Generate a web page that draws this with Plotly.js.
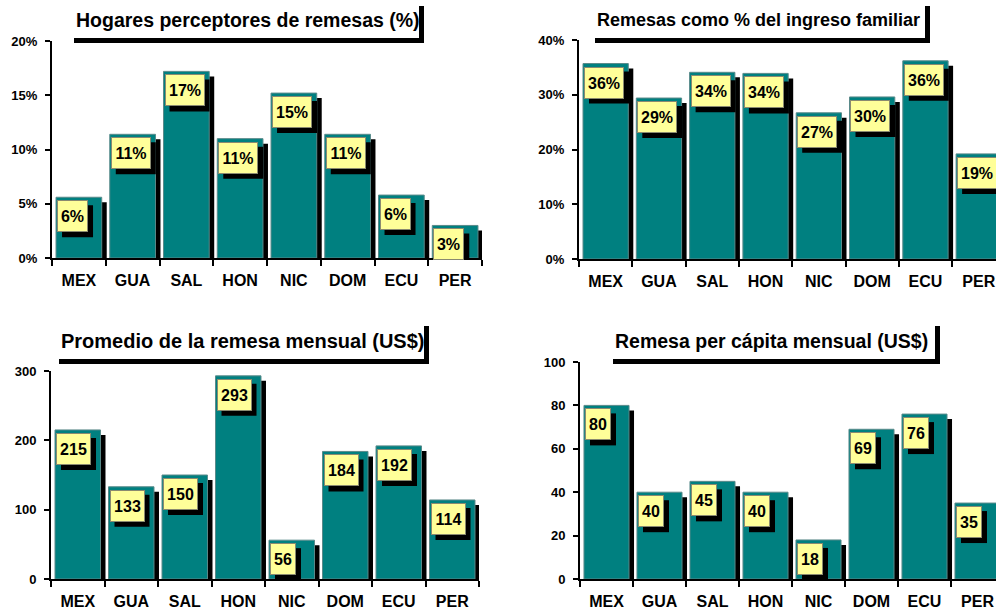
<!DOCTYPE html>
<html><head><meta charset="utf-8">
<script src="https://cdn.plot.ly/plotly-3.0.1.min.js"></script>
<style>body{margin:0;background:#fff}#chart{width:996px;height:612px}</style>
</head><body><div id="chart"></div>
<script>
const W = 996, H = 612;
const countries = ['MEX','GUA','SAL','HON','NIC','DOM','ECU','PER'];
const hogaresPct = [5.6, 11.4, 17.2, 11.0, 15.2, 11.4, 5.8, 3.0];
const remesaIngresoPct = [35.7, 29.4, 34.1, 33.9, 26.7, 29.6, 36.2, 19.2];
const promedioMensual = [215, 133, 150, 293, 56, 184, 192, 114];
const perCapitaMensual = [80, 40, 45, 40, 18, 69, 76, 35];
const titles = ['Hogares perceptores de remesas (%)', 'Remesas como % del ingreso familiar',
                'Promedio de la remesa mensual (US$)', 'Remesa per cápita mensual (US$)'];

const FONT = 'Arial, "Liberation Sans", sans-serif';
const TEAL = '#008080', YEL = '#FFFF99';
const BARW = 0.85, SH = 5;

const panels = [
  {values: hogaresPct, pct: true, yrange: [0, 20], dtick: 5, tsize: 19.5,
   box: {x0: 52, x1: 482, y0: 41, y1: 258, step: 53.75}, tb: {x0: 74, x1: 424, y0: 6, y1: 43, ty: 20}},
  {values: remesaIngresoPct, pct: true, yrange: [0, 40], dtick: 10, tsize: 18,
   box: {x0: 579, x1: 996, y0: 40, y1: 259, step: 53.3}, tb: {x0: 595, x1: 930, y0: 6, y1: 43, ty: 20}},
  {values: promedioMensual, pct: false, yrange: [0, 300], dtick: 100, tsize: 20,
   box: {x0: 51, x1: 479, y0: 371, y1: 579, step: 53.5}, tb: {x0: 59, x1: 429, y0: 326, y1: 364, ty: 341}},
  {values: perCapitaMensual, pct: false, yrange: [0, 100], dtick: 20, tsize: 19.5,
   box: {x0: 580, x1: 996, y0: 362, y1: 579, step: 53}, tb: {x0: 613, x1: 940, y0: 326, y1: 364, ty: 341}}
];

const data = [], shapes = [], annotations = [];
const layout = {
  width: W, height: H, margin: {l: 0, r: 0, t: 0, b: 0},
  paper_bgcolor: '#fff', plot_bgcolor: 'rgba(0,0,0,0)', showlegend: false, barmode: 'overlay',
  font: {family: FONT, color: '#000'}
};

function textW(s) {
  let w = 0;
  for (const c of s) w += (c === '%') ? 14.2 : 8.9;
  return w;
}

panels.forEach((p, k) => {
  const n = k + 1;
  const xa = 'x' + (n === 1 ? '' : n), ya = 'y' + (n === 1 ? '' : n);
  const xaKey = 'xaxis' + (n === 1 ? '' : n), yaKey = 'yaxis' + (n === 1 ? '' : n);
  const b = p.box;
  const span = p.yrange[1] - p.yrange[0];
  const hpx = b.y1 - b.y0;
  const shY = SH * span / hpx;

  layout[xaKey] = {
    type: 'category', domain: [b.x0 / W, b.x1 / W], anchor: ya,
    range: [-0.5, -0.5 + (b.x1 - b.x0) / b.step],
    tickson: 'boundaries', ticks: 'outside', ticklen: 6, tickwidth: 2, tickcolor: '#000',
    showline: true, linewidth: 2, linecolor: '#000', showgrid: false, zeroline: false,
    tickfont: {family: FONT, size: 16, weight: 'bold', color: '#000'}, ticklabelstandoff: 7,
    fixedrange: true
  };
  layout[yaKey] = {
    domain: [1 - b.y1 / H, 1 - b.y0 / H], anchor: xa, range: p.yrange,
    tickmode: 'linear', tick0: 0, dtick: p.dtick, ticksuffix: p.pct ? '%' : '',
    ticks: 'outside', ticklen: 5, tickwidth: 2, tickcolor: '#000',
    showline: true, linewidth: 2, linecolor: '#000', showgrid: false, zeroline: false,
    tickfont: {family: FONT, size: 13, weight: 'bold', color: '#000'}, ticklabelstandoff: 5,
    fixedrange: true
  };

  // bar shadows
  data.push({
    type: 'bar', x: countries, y: p.values.map(v => v - shY), base: 0,
    xaxis: xa, yaxis: ya, width: BARW, offset: -BARW / 2 + SH / b.step,
    marker: {color: '#000', line: {width: 0}}, hoverinfo: 'skip'
  });
  // bars
  data.push({
    type: 'bar', x: countries, y: p.values, xaxis: xa, yaxis: ya,
    width: BARW, offset: -BARW / 2,
    marker: {color: TEAL, line: {color: '#5a8a8a', width: 1}},
    hovertemplate: '%{x}: %{y}<extra></extra>'
  });

  // value labels with shadows
  p.values.forEach((v, i) => {
    const txt = p.pct ? Math.round(v) + '%' : String(Math.round(v));
    const w = Math.round(textW(txt) + 8), h = 32;
    const x0 = i - BARW / 2 + (1 + SH) / b.step;
    shapes.push({
      type: 'rect', xref: xa, yref: ya, x0: x0, x1: x0 + w / b.step,
      ysizemode: 'pixel', yanchor: v, y0: -(3 + SH + h), y1: -(3 + SH),
      fillcolor: '#000', line: {width: 0}, layer: 'above'
    });
    annotations.push({
      xref: xa, yref: ya, x: countries[i], y: v, xanchor: 'left', yanchor: 'top',
      xshift: -BARW / 2 * b.step + 1, yshift: -3,
      text: txt, showarrow: false, width: w - 2, height: h - 2, align: 'center', valign: 'middle',
      bgcolor: YEL, bordercolor: '#8a8a70', borderwidth: 1, borderpad: 0,
      font: {family: FONT, size: 16, weight: 'bold', color: '#000'}
    });
  });

  // title box with shadow
  const t = p.tb;
  shapes.push({type: 'rect', xref: 'paper', yref: 'paper',
    x0: t.x0 / W, x1: t.x1 / W, y0: 1 - t.y1 / H, y1: 1 - (t.y1 - 5) / H,
    fillcolor: '#000', line: {width: 0}, layer: 'above'});
  shapes.push({type: 'rect', xref: 'paper', yref: 'paper',
    x0: (t.x1 - 5) / W, x1: t.x1 / W, y0: 1 - t.y1 / H, y1: 1 - t.y0 / H,
    fillcolor: '#000', line: {width: 0}, layer: 'above'});
  annotations.push({
    xref: 'paper', yref: 'paper', x: t.x0 / W, y: 1 - t.ty / H, xanchor: 'left', yanchor: 'middle',
    text: titles[k], showarrow: false,
    font: {family: FONT, size: p.tsize, weight: 'bold', color: '#000'}
  });
});

layout.shapes = shapes;
layout.annotations = annotations;
Plotly.newPlot('chart', data, layout, {displayModeBar: false, staticPlot: true});
</script>
</body></html>
